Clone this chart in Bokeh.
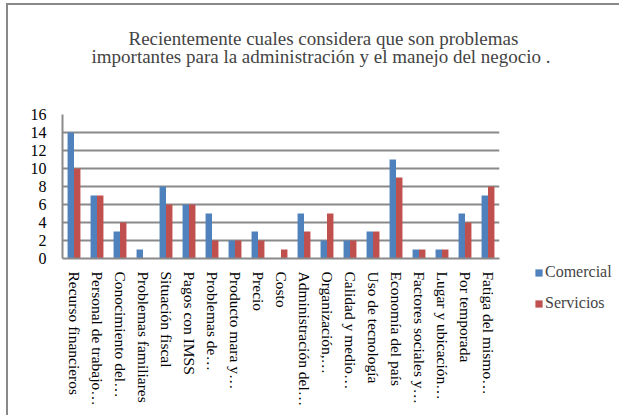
from bokeh.plotting import figure
from bokeh.models import ColumnDataSource, FactorRange, Range1d, FixedTicker, Legend, LegendItem, Title
from bokeh.transform import dodge
from bokeh.embed import file_html
from bokeh.resources import INLINE

categories = ["Recurso financieros", "Personal de trabajo…", "Conocimiento del…",
              "Problemas familiares", "Situación fiscal", "Pagos con IMSS",
              "Problemas de…", "Producto mara y…", "Precio", "Costo",
              "Administración del…", "Organización,…", "Calidad y medio…",
              "Uso de tecnología", "Economía del país", "Factores sociales y…",
              "Lugar y ubicación…", "Por temporada", "Fatiga del mismo…"]
comercial = [14, 7, 3, 1, 8, 6, 5, 2, 3, 0, 5, 2, 2, 3, 11, 1, 1, 5, 7]
servicios = [10, 7, 4, 0, 6, 6, 2, 2, 2, 1, 3, 5, 2, 3, 9, 1, 1, 4, 8]
series_names = ["Comercial", "Servicios"]
series_colors = ["#4F81BD", "#C0504D"]
y_ticks = [0, 2, 4, 6, 8, 10, 12, 14, 16]
title_line1 = "Recientemente cuales considera que son problemas"
title_line2 = "importantes para la administración  y el manejo del negocio ."

FONT = "Liberation Serif"
GRID = "#8a8a8a"

source = ColumnDataSource(dict(cat=categories, com=comercial, ser=servicios))

p = figure(x_range=FactorRange(*categories), y_range=Range1d(0, 16),
           width=613, height=412, output_backend="svg", toolbar_location=None,
           min_border_left=54, min_border_right=122, min_border_top=109,
           min_border_bottom=159)
p.styles = {"margin-left": "6px", "margin-top": "3px",
            "border-left": "2px solid #888888", "border-top": "2px solid #888888"}

p.vbar(x=dodge("cat", -0.14, range=p.x_range), top="com", width=0.28,
       source=source, fill_color=series_colors[0], line_color=None)
p.vbar(x=dodge("cat", 0.14, range=p.x_range), top="ser", width=0.28,
       source=source, fill_color=series_colors[1], line_color=None)

# titles: p.title is outermost; panels added later stack outward from the frame
p.title.text = title_line1
p.title.align = "left"
p.title.offset = 66
p.title.standoff = -11
p.title.text_font = FONT
p.title.text_font_size = "19px"
p.title.text_font_style = "normal"
spacer = Title(text=" ", text_font=FONT, text_font_size="19px", standoff=25)
p.add_layout(spacer, "above")
t2 = Title(text=title_line2, align="left", offset=29, text_font=FONT,
           text_font_size="19px", text_font_style="normal", standoff=0)
p.add_layout(t2, "above")

p.outline_line_color = None
p.xgrid.grid_line_color = None
p.ygrid.grid_line_color = GRID
p.ygrid.grid_line_width = 2
p.yaxis.ticker = FixedTicker(ticks=y_ticks)

p.yaxis.axis_line_color = GRID
p.yaxis.axis_line_width = 2
p.yaxis.major_tick_line_color = None
p.yaxis.minor_tick_line_color = None
p.yaxis.major_label_standoff = 10
p.yaxis.major_label_text_font = FONT
p.yaxis.major_label_text_font_size = "16px"
p.yaxis.major_label_text_color = "black"

p.xaxis.axis_line_color = GRID
p.xaxis.axis_line_width = 2
p.xaxis.major_tick_line_color = None
p.xaxis.minor_tick_line_color = None
p.xaxis.major_label_orientation = "vertical"
p.xaxis.major_label_standoff = 7
p.xaxis.major_label_text_font = FONT
p.xaxis.major_label_text_font_size = "15.5px"
p.xaxis.major_label_text_color = "black"

# legend: a small transparent companion figure laid over the right margin;
# its bars use the same data but sit outside its visible y range
pl = figure(width=91, height=80, output_backend="svg", toolbar_location=None,
            x_range=FactorRange(*categories), y_range=Range1d(100, 101),
            min_border=0, x_axis_type=None, y_axis_type=None)
pl.title.visible = False
pl.outline_line_color = None
pl.grid.grid_line_color = None
pl.border_fill_alpha = 0
pl.background_fill_alpha = 0
pl.styles = {"position": "absolute", "left": "530px", "top": "240px"}
lr1 = pl.vbar(x="cat", top="com", width=0.28, source=source,
              fill_color=series_colors[0], line_color=None)
lr2 = pl.vbar(x="cat", top="ser", width=0.28, source=source,
              fill_color=series_colors[1], line_color=None)
legend = Legend(items=[LegendItem(label=series_names[0], renderers=[lr1]),
                       LegendItem(label=series_names[1], renderers=[lr2])],
                location=(4, 7), orientation="vertical",
                glyph_width=9, glyph_height=9, label_standoff=2,
                label_height=20, spacing=11, padding=0, margin=0,
                border_line_color=None, background_fill_alpha=0,
                label_text_font=FONT, label_text_font_size="16px")
pl.add_layout(legend, "center")

open("out.html", "w").write(file_html([p, pl], INLINE))
